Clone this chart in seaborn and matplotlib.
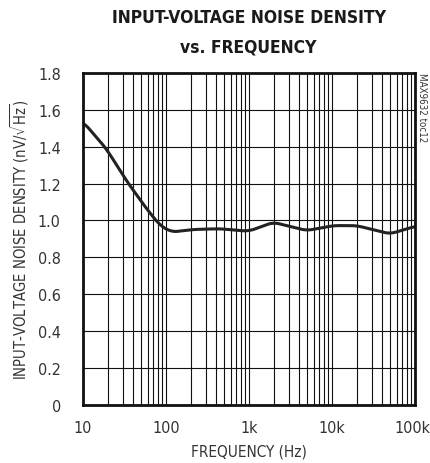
import numpy as np
import pandas as pd
import matplotlib
matplotlib.use("Agg")
import matplotlib.pyplot as plt
import matplotlib.transforms as mtrans
from matplotlib.ticker import FixedLocator, LogLocator, NullFormatter
import seaborn as sns

# curve
freq_hz = [10, 19, 34, 58, 85, 117, 214, 447, 780, 1000, 1960, 4950, 10400, 19800, 50000, 100000]
noise_nv = [1.535, 1.39, 1.21, 1.065, 0.972, 0.937, 0.951, 0.955, 0.945, 0.942, 0.99, 0.945, 0.972, 0.972, 0.927, 0.968]

x_ticks = [10, 100, 1000, 10000, 100000]
x_tick_labels = ["10", "100", "1k", "10k", "100k"]
y_ticks = [0, 0.2, 0.4, 0.6, 0.8, 1.0, 1.2, 1.4, 1.6, 1.8]
y_tick_labels = ["0", "0.2", "0.4", "0.6", "0.8", "1.0", "1.2", "1.4", "1.6", "1.8"]

sns.set_style("white")
plt.rcParams["font.family"] = ["DejaVu Sans"]
plt.rcParams["font.stretch"] = "condensed"
plt.rcParams["mathtext.fontset"] = "dejavusans"

df = pd.DataFrame({"freq": freq_hz, "noise": noise_nv})
# smooth the curve in log-frequency space
logf = np.log10(df["freq"])
fine = np.linspace(logf.min(), logf.max(), 400)
smooth = pd.DataFrame({"freq": 10 ** fine,
                       "noise": np.interp(fine, logf, df["noise"])})
kern = np.ones(15) / 15
padded = np.pad(smooth["noise"].values, 7, mode="edge")
smooth["noise"] = np.convolve(padded, kern, mode="valid")

fig = plt.figure(figsize=(4.3, 4.64), dpi=100)
ax = fig.add_axes([0.193, 0.125, 0.772, 0.716])

sns.lineplot(data=smooth, x="freq", y="noise", ax=ax, color="#222222", linewidth=2.2)

ax.set_xscale("log")
ax.set_xlim(10, 100000)
ax.set_ylim(0, 1.8)
ax.xaxis.set_major_locator(FixedLocator(x_ticks))
ax.set_xticklabels(x_tick_labels)
ax.xaxis.set_minor_locator(LogLocator(base=10, subs=np.arange(2, 10)))
ax.xaxis.set_minor_formatter(NullFormatter())
ax.set_yticks(y_ticks)
ax.set_yticklabels(y_tick_labels)
ax.grid(True, which="both", axis="x", color="#111111", linewidth=0.8)
ax.grid(True, which="major", axis="y", color="#111111", linewidth=0.8)
ax.tick_params(which="both", length=0, colors="#333333")
ax.tick_params(axis="x", labelsize=11.5, pad=11)
ax.tick_params(axis="y", labelsize=11.5, pad=16)
for s in ax.spines.values():
    s.set_linewidth(2)
    s.set_color("#111111")

# nudge the last x label so it stays inside the canvas
last = ax.get_xticklabels()[-1]
last.set_transform(last.get_transform() + mtrans.ScaledTranslation(-3 / 100, 0, fig.dpi_scale_trans))

ax.set_xlabel("FREQUENCY (Hz)", fontsize=11, color="#333333", labelpad=6)
ax.set_ylabel(r"INPUT-VOLTAGE NOISE DENSITY (nV/$\sqrt{\mathrm{Hz}}$)", fontsize=10.6,
              color="#333333", labelpad=5)

fig.text(0.578, 0.962, "INPUT-VOLTAGE NOISE DENSITY", ha="center", va="center",
         fontsize=12.5, fontweight="heavy", color="#1a1a1a")
fig.text(0.578, 0.898, "vs. FREQUENCY", ha="center", va="center",
         fontsize=12.5, fontweight="heavy", color="#1a1a1a")
fig.text(0.982, 0.769, "MAX9632 toc12", rotation=270, ha="center", va="center",
         fontsize=7, color="#333333")

fig.savefig("out.png", dpi=100)
